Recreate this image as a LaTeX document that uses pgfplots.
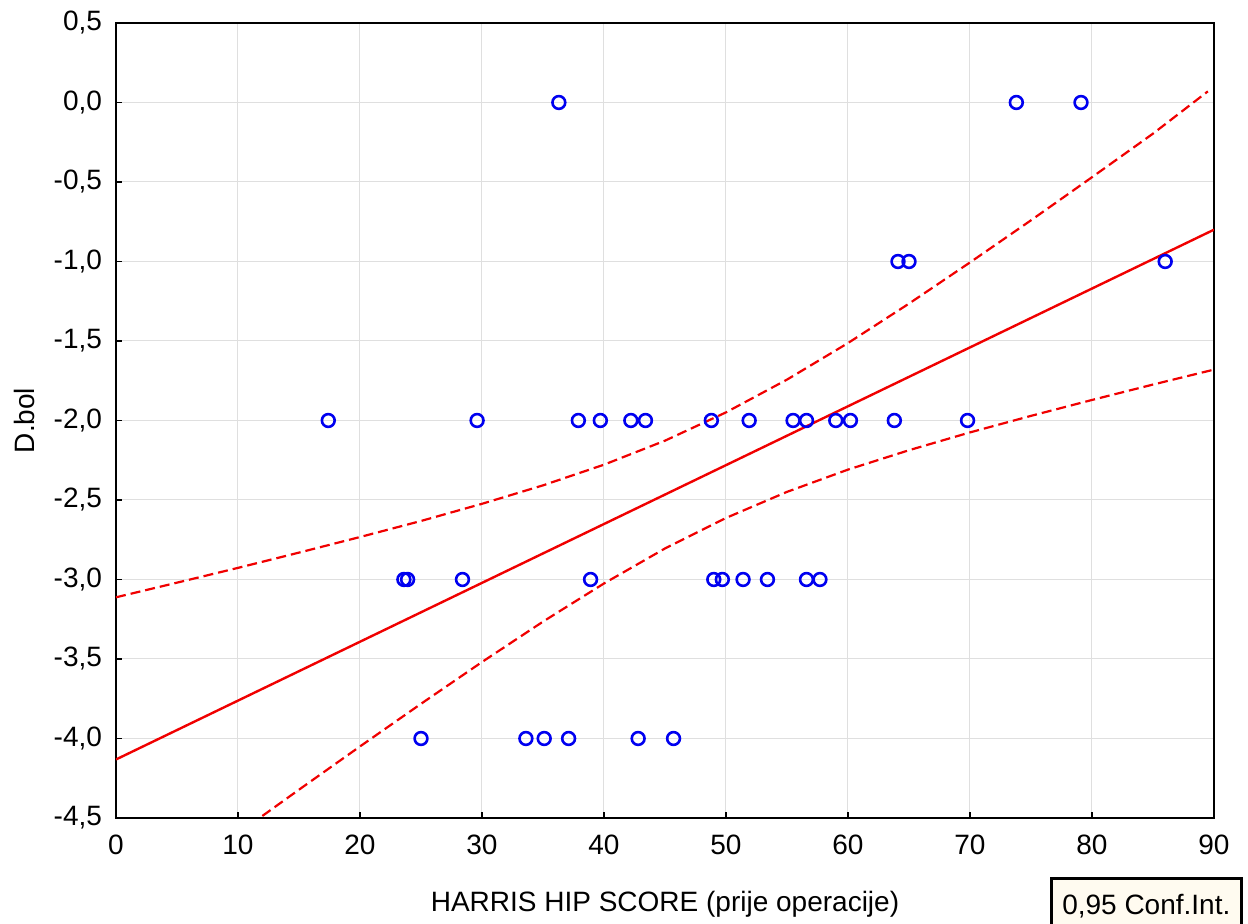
\documentclass[border=0pt]{standalone}
\usepackage{pgfplots}
\pgfplotsset{compat=1.18}
\usepackage{fontspec}
\setmainfont{Liberation Sans}

\definecolor{ptblue}{RGB}{0,0,240}
\definecolor{fitred}{RGB}{240,0,0}
\definecolor{boxcream}{RGB}{255,251,240}

\begin{document}
\begin{tikzpicture}
\useasboundingbox (0,0) rectangle (624pt,462pt);
\begin{axis}[
    at={(58pt,53pt)}, anchor=south west,
    scale only axis, width=549pt, height=397.5pt,
    xmin=0, xmax=90, ymin=-4.5, ymax=0.5,
    xtick={0,10,...,90},
    ytick={-4.5,-4,...,0.5},
    grid=major,
    major grid style={gray!25, line width=0.5pt},
    axis line style={black, line width=1.1pt},
    tick style={black, line width=0.8pt},
    major tick length=3pt,
    xtick pos=left, ytick pos=left,
    tick align=inside,
    /pgf/number format/assume math mode=true,
    /pgf/number format/use comma,
    yticklabel style={/pgf/number format/fixed, /pgf/number format/fixed zerofill, /pgf/number format/precision=1, xshift=-3.5pt},
    xticklabel style={/pgf/number format/fixed, yshift=-5pt},
    ticklabel style={font=\fontsize{14}{16}\selectfont},
    xlabel={HARRIS HIP SCORE (prije operacije)},
    ylabel={D.bol},
    label style={font=\fontsize{14}{16}\selectfont},
    xlabel style={at={(axis description cs:0.5,0)}, anchor=center, yshift=-43pt},
    ylabel style={at={(axis description cs:0,0.5)}, anchor=center, yshift=46pt},
    clip=true,
]
% regression line
\addplot[fitred, line width=1.2pt] coordinates {(0,-4.132) (90,-0.800)};
% upper 95% band
\addplot[fitred, line width=1.1pt, dash pattern=on 5pt off 2.5pt] coordinates {
(0,-3.112) (5,-3.020) (10,-2.927) (15,-2.831) (20,-2.733) (25,-2.632)
(30,-2.524) (35,-2.408) (40,-2.278) (45,-2.127) (50,-1.949) (55,-1.743)
(60,-1.513) (65,-1.265) (70,-1.006) (75,-0.741) (80,-0.470) (85,-0.196)
(89.5,0.070)};
% lower 95% band
\addplot[fitred, line width=1.1pt, dash pattern=on 5pt off 2.5pt] coordinates {
(10,-4.597) (15,-4.322) (20,-4.050) (25,-3.782) (30,-3.519) (35,-3.265)
(40,-3.025) (45,-2.805) (50,-2.613) (55,-2.449) (60,-2.309) (65,-2.187)
(70,-2.075) (75,-1.971) (80,-1.871) (85,-1.774) (90,-1.680)};
% observations
\addplot[only marks, mark=o, mark size=3.2pt, ptblue, line width=1.3pt] coordinates {
(36.3,0) (73.8,0) (79.1,0)
(64.1,-1) (65.0,-1) (86.0,-1)
(17.4,-2) (29.6,-2) (37.9,-2) (39.7,-2) (42.2,-2) (43.4,-2) (48.8,-2)
(51.9,-2) (55.5,-2) (56.6,-2) (59.0,-2) (60.2,-2) (63.8,-2) (69.8,-2)
(23.6,-3) (23.9,-3) (28.4,-3) (38.9,-3) (49.0,-3) (49.7,-3) (51.4,-3)
(53.4,-3) (56.6,-3) (57.7,-3)
(25.0,-4) (33.6,-4) (35.1,-4) (37.1,-4) (42.8,-4) (45.7,-4)};
\end{axis}
\node[draw=black, line width=1.3pt, fill=boxcream, anchor=south west,
      minimum width=95pt, minimum height=26pt, inner sep=2pt,
      font=\fontsize{14}{16}\selectfont, text depth=0pt]
      at (525pt,-4pt) {0,95 Conf.Int.};
\end{tikzpicture}
\end{document}
